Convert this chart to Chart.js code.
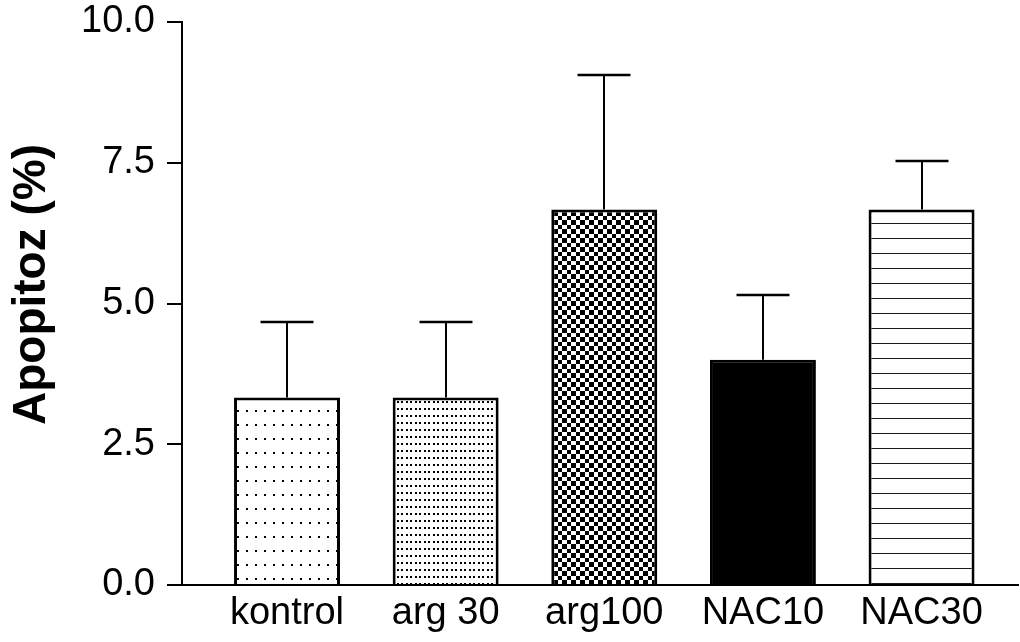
<!DOCTYPE html>
<html>
<head>
<meta charset="utf-8">
<script src="https://cdn.jsdelivr.net/npm/chart.js@4"></script>
<style>
  html, body { margin: 0; padding: 0; background: #ffffff; }
  #wrap { width: 1020px; height: 642px; }
</style>
</head>
<body>
<div id="wrap"><canvas id="c" width="1020" height="642"></canvas></div>
<script>
// ---- data ----
const categories = ['kontrol', 'arg 30', 'arg100', 'NAC10', 'NAC30'];
const means = [3.33, 3.33, 6.67, 4.0, 6.67];
const errorTops = [4.67, 4.67, 9.06, 5.15, 7.53];
const yTickValues = [0, 2.5, 5.0, 7.5, 10.0];
const yTitle = 'Apopitoz (%)';

// ---- fill patterns ----
function makePattern(w, h, draw) {
  const c = document.createElement('canvas');
  c.width = w; c.height = h;
  const g = c.getContext('2d');
  g.fillStyle = '#ffffff';
  g.fillRect(0, 0, w, h);
  g.fillStyle = '#000000';
  draw(g);
  return document.getElementById('c').getContext('2d').createPattern(c, 'repeat');
}
const patSparseDots = makePattern(9, 14, g => { g.fillRect(3, 4, 2, 2); });
const patDenseDots = makePattern(9, 7, g => { g.fillRect(1, 2, 2, 2); g.fillRect(5, 2, 2, 2); });
const patChecker = makePattern(9, 9, g => { g.fillRect(0, 0, 4, 4); g.fillRect(4, 4, 5, 5); });
const patLines = makePattern(8, 15, g => { g.fillStyle = '#1a1a1a'; g.fillRect(0, 13, 8, 1); });
const fills = [patSparseDots, patDenseDots, patChecker, '#000000', patLines];

// ---- plugins ----
const errorBars = {
  id: 'errorBars',
  afterDatasetsDraw(chart) {
    const ctx = chart.ctx;
    const meta = chart.getDatasetMeta(0);
    const ys = chart.scales.y;
    ctx.save();
    ctx.strokeStyle = '#000000';
    meta.data.forEach((bar, i) => {
      const x = Math.round(bar.x);
      const top = bar.y;
      const eTop = ys.getPixelForValue(errorTops[i]);
      const half = bar.width / 4;
      ctx.lineWidth = 2;
      ctx.beginPath();
      ctx.moveTo(x, top);
      ctx.lineTo(x, eTop);
      ctx.stroke();
      ctx.lineWidth = 2.5;
      ctx.beginPath();
      ctx.moveTo(x - half, eTop);
      ctx.lineTo(x + half, eTop);
      ctx.stroke();
    });
    ctx.restore();
  }
};

const yTitlePlugin = {
  id: 'yTitlePlugin',
  afterDraw(chart) {
    const ctx = chart.ctx;
    const a = chart.chartArea;
    ctx.save();
    ctx.translate(32, (a.top + a.bottom) / 2 - 19);
    ctx.rotate(-Math.PI / 2);
    ctx.font = 'bold 46px "Liberation Sans", Arial, sans-serif';
    ctx.fillStyle = '#000000';
    ctx.textAlign = 'center';
    ctx.textBaseline = 'middle';
    ctx.fillText(yTitle, 0, 0);
    ctx.restore();
  }
};

const tickFont = { family: '"Liberation Sans", Arial, sans-serif', size: 38, lineHeight: 1 };

new Chart(document.getElementById('c'), {
  type: 'bar',
  data: {
    datasets: [{
      data: means.map((v, i) => ({ x: i, y: v })),
      backgroundColor: fills,
      borderColor: '#000000',
      borderWidth: 3,
      borderSkipped: 'bottom',
      categoryPercentage: 1.0,
      barPercentage: 0.668
    }]
  },
  options: {
    responsive: false,
    animation: false,
    events: [],
    layout: { padding: { top: 22, right: 2, left: 0, bottom: 0 } },
    plugins: { legend: { display: false }, tooltip: { enabled: false } },
    scales: {
      x: {
        type: 'linear',
        offset: false,
        min: -0.662,
        max: 4.608,
        afterBuildTicks: s => { s.ticks = categories.map((_, i) => ({ value: i })); },
        afterFit: s => { s.height = 57; s.paddingLeft = 0; s.paddingRight = 0; },
        grid: { display: false, drawTicks: false, offset: false },
        border: { display: true, color: '#000000', width: 2 },
        ticks: {
          color: '#000000',
          font: tickFont,
          padding: 10,
          autoSkip: false,
          maxRotation: 0,
          callback: v => categories[v]
        }
      },
      y: {
        min: 0,
        max: 10,
        afterBuildTicks: s => { s.ticks = yTickValues.map(v => ({ value: v })); },
        afterFit: s => { s.width = 182; s.paddingTop = 0; s.paddingBottom = 0; },
        grid: { drawOnChartArea: false, drawTicks: true, tickLength: 15, color: '#000000', lineWidth: 2 },
        border: { display: true, color: '#000000', width: 2 },
        ticks: {
          color: '#000000',
          font: tickFont,
          padding: 12,
          callback: v => Number(v).toFixed(1)
        },
        title: { display: false }
      }
    }
  },
  plugins: [errorBars, yTitlePlugin]
});
</script>
</body>
</html>
